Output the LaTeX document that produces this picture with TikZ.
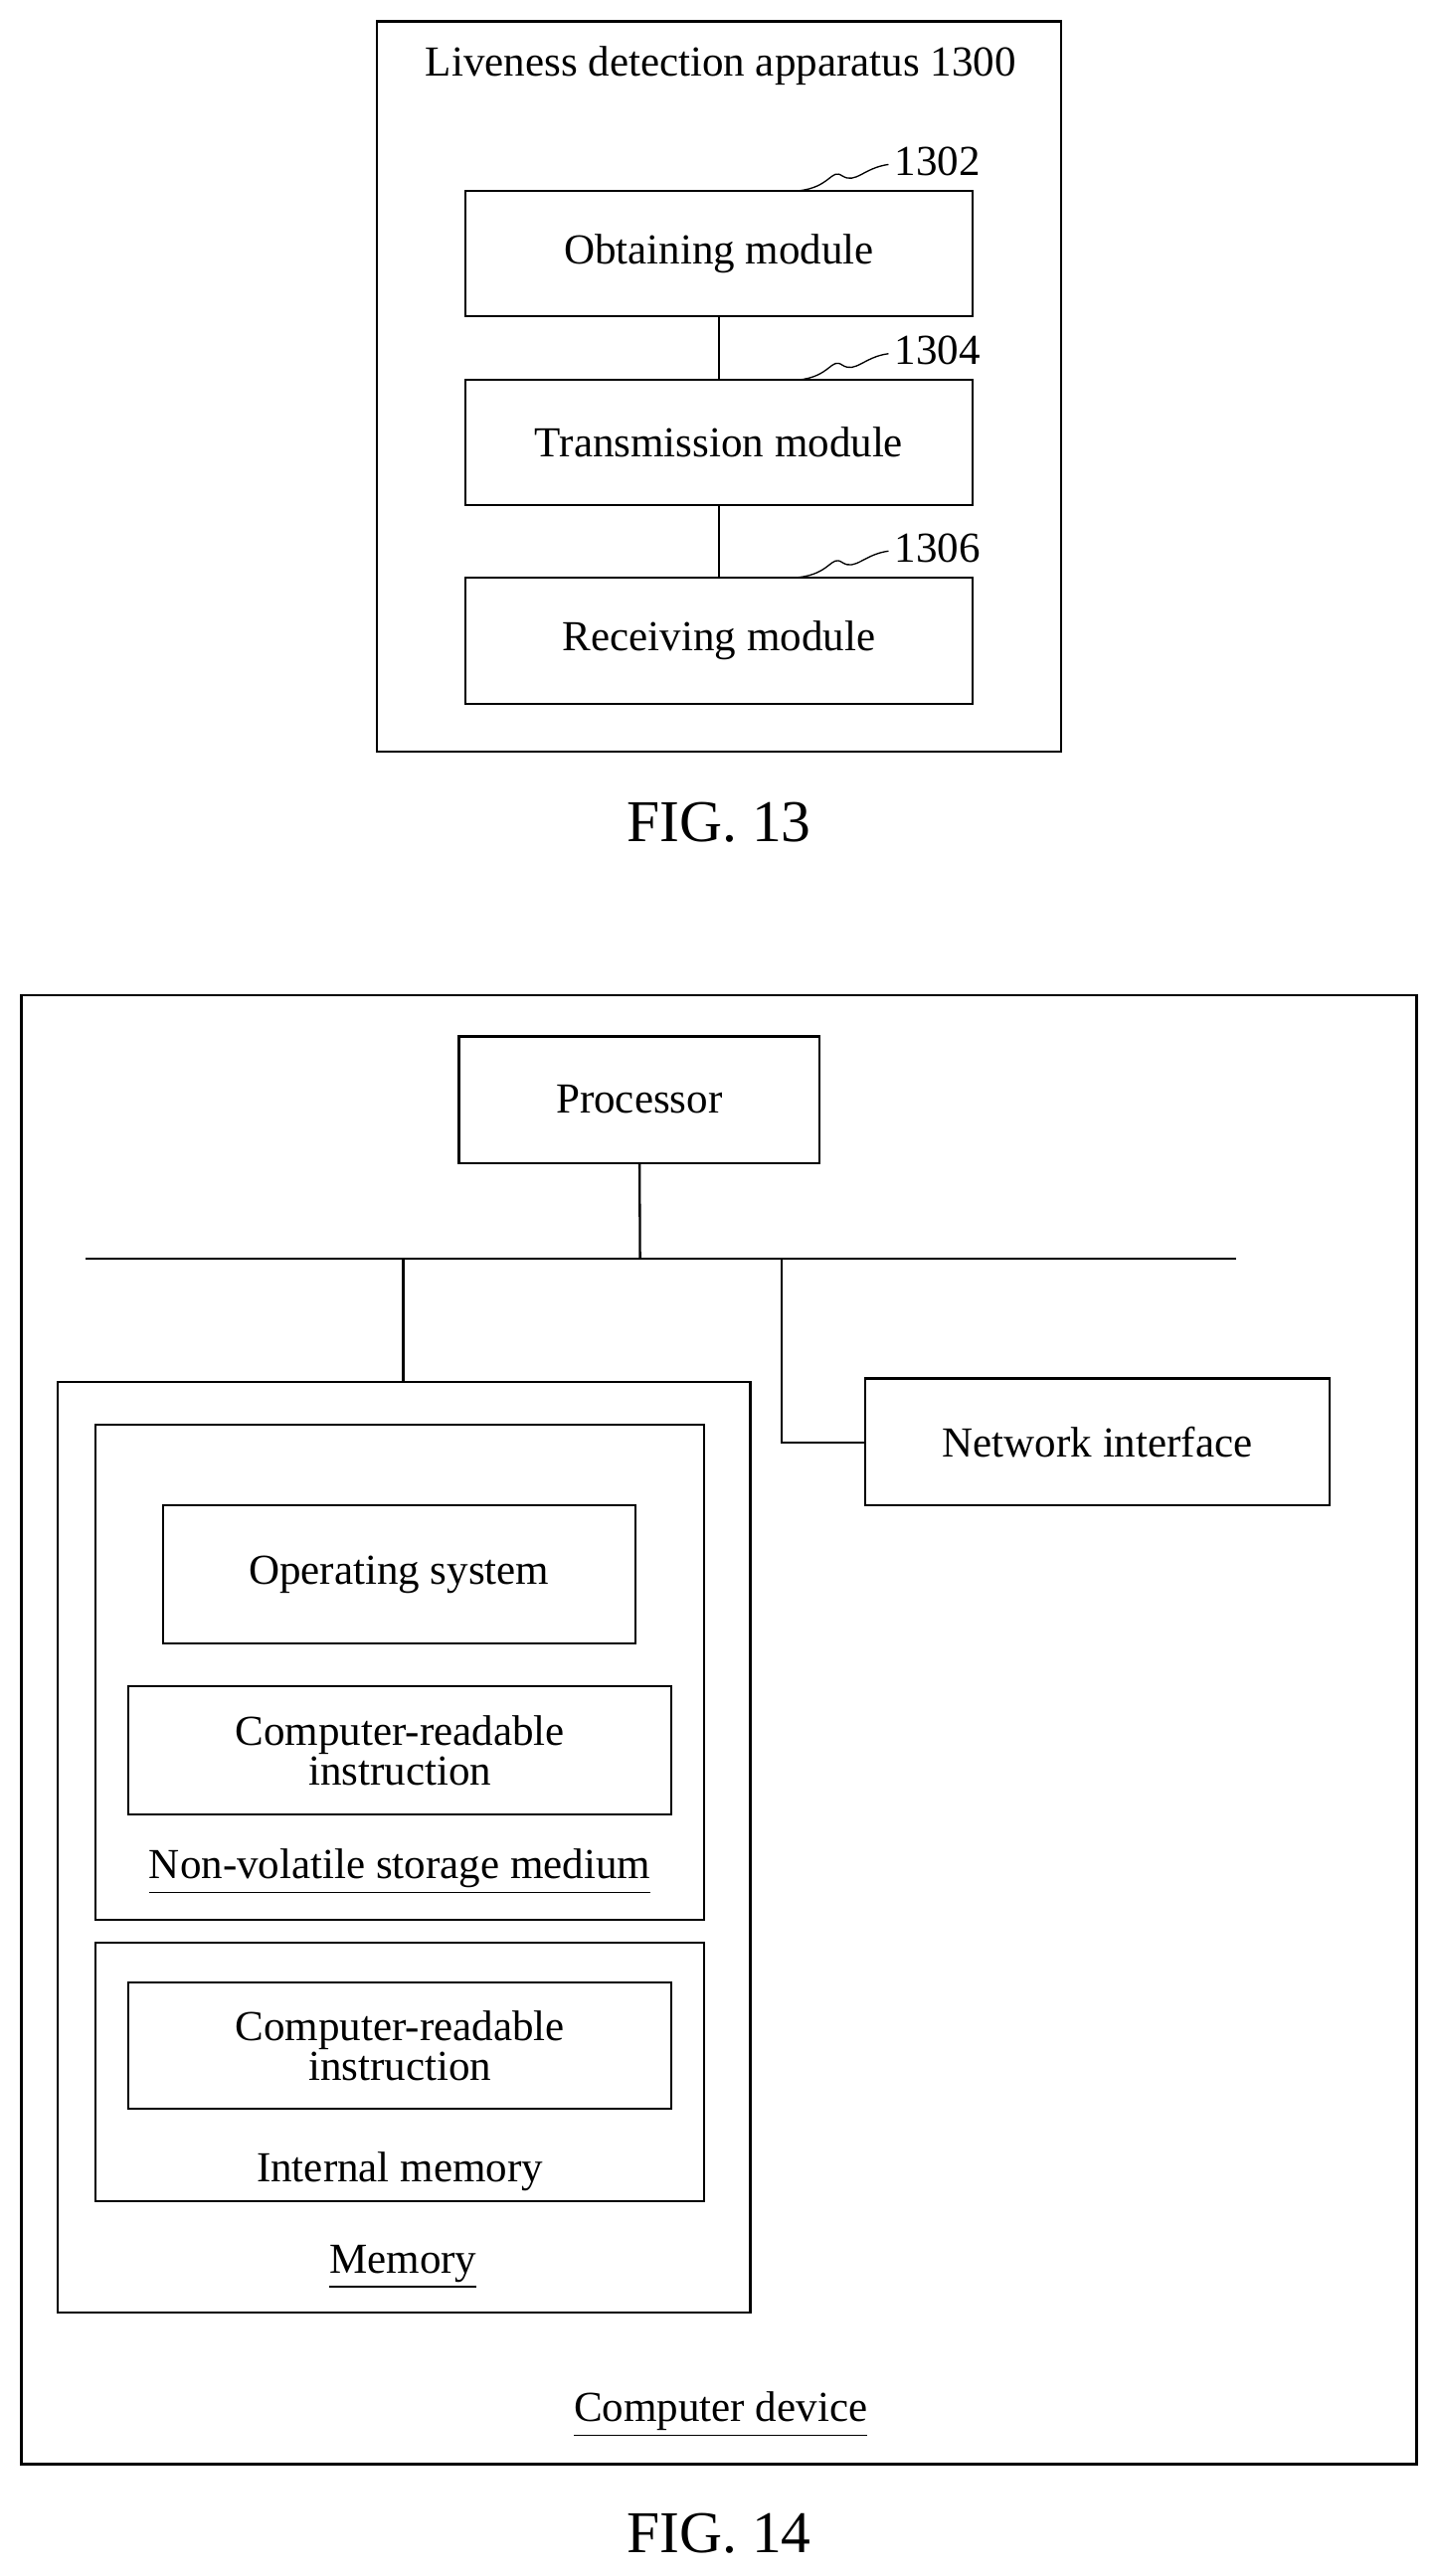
\documentclass[tikz,border=0pt]{standalone}
\usepackage{fontspec}
\setmainfont{Liberation Serif}
\usetikzlibrary{positioning}
\tikzset{
  box/.style={draw,inner sep=0pt,font=\fontsize{13}{14}\selectfont},
  lbl/.style={inner sep=0pt,font=\fontsize{13}{14}\selectfont},
  fig/.style={inner sep=0pt,font=\fontsize{18}{20}\selectfont},
  wave/.style={thin}
}
\newcommand{\bx}[6]{\node[box,minimum width={(#4-#2)*0.5pt},minimum height={(#5-#3)*0.5pt},align=center] (#1) at ({(#2+#4)/2},{-(#3+#5)/2}) {#6};}
\begin{document}
\begin{tikzpicture}[x=0.5pt,y=0.5pt,line width=0.7pt]
\useasboundingbox (0,0) rectangle (873,-1566);
% FIG. 13
\bx{app}{229}{13}{645}{457}{}
\node[lbl] (apptitle) at (438,-40) {Liveness detection apparatus 1300};
\bx{obt}{283}{116}{591}{192}{Obtaining module}
\bx{trans}{283}{231}{591}{307}{Transmission module}
\bx{recv}{283}{351}{591}{428}{Receiving module}
\draw (obt) -- (trans);
\draw (trans) -- (recv);
\foreach \n/\t/\y in {obt/1302/116,trans/1304/231,recv/1306/351}{
  \coordinate (\n w0) at (485,-\y);
  \coordinate (\n w1) at (540,-\y+16);
  \node[lbl,anchor=west] (\n num) at (543,-\y+18) {\t};
  \draw[wave] (\n w0) .. controls (505,-\y+2) and (505,-\y+14) .. (512,-\y+9)
     .. controls (520,-\y+4) and (525,-\y+14) .. (\n w1);
}
\node[fig] (fig13) at (437,-500) {FIG. 13};
% FIG. 14
\bx{dev}{13}{605}{861}{1498}{}
\node[lbl] (devlbl) at (438,-1468) {\underline{Computer device}};
\bx{proc}{279}{630}{498}{707}{Processor}
\coordinate (busl) at (52,-765);
\coordinate (busr) at (751,-765);
\coordinate (busp) at (389,-765);
\coordinate (busm) at (245,-765);
\coordinate (busn) at (475,-765);
\coordinate (netc) at (475,-877);
\draw (busl) -- (busr);
\draw (proc) -- (busp);
\bx{mem}{35}{840}{456}{1406}{}
\node[lbl] (memlbl) at (245,-1378) {\underline{Memory}};
\draw (busm) -- (mem.north -| busm);
\bx{net}{526}{838}{808}{915}{Network interface}
\draw (busn) -- (netc) -- (net.west |- netc);
\bx{nv}{58}{866}{428}{1167}{}
\bx{os}{99}{915}{386}{999}{Operating system}
\bx{cri}{78}{1025}{408}{1103}{Computer-readable\\[-2pt]instruction}
\node[lbl] (nvlbl) at (243,-1138) {\underline{Non-volatile storage medium}};
\bx{im}{58}{1181}{428}{1338}{}
\bx{crib}{78}{1205}{408}{1282}{Computer-readable\\[-2pt]instruction}
\node[lbl] (imlbl) at (243,-1320) {Internal memory};
\node[fig] (fig14) at (437,-1540) {FIG. 14};
\end{tikzpicture}
\end{document}
